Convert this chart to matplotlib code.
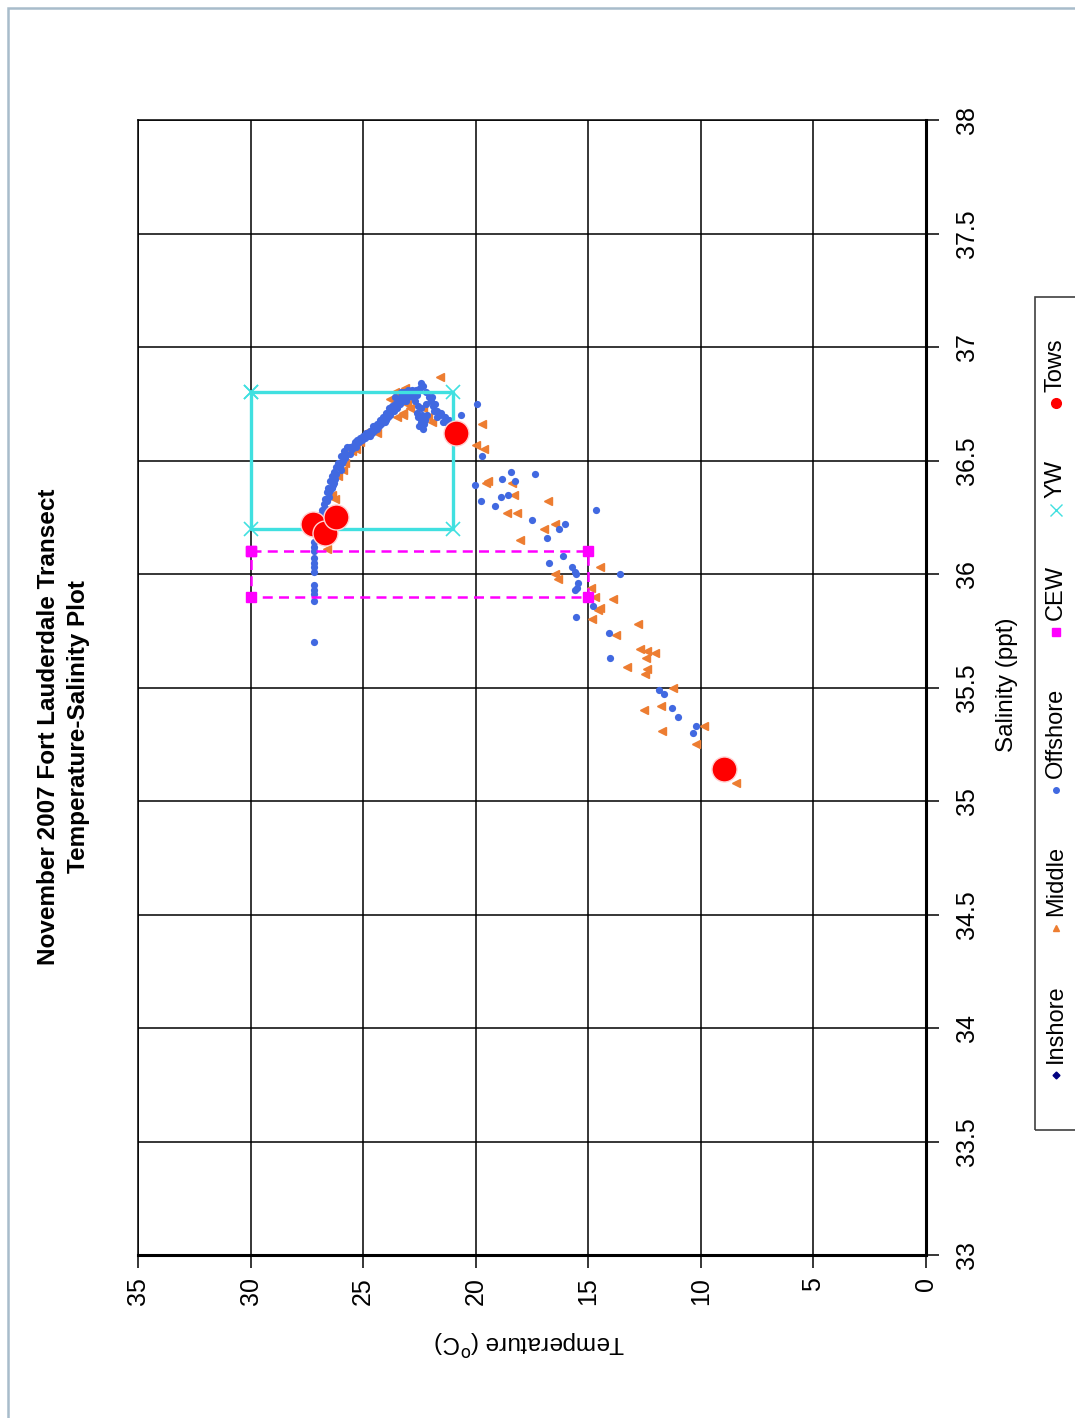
"""T-S plot, Fort Lauderdale transect Nov 2007 (drawn page-rotated, as in the scan)."""
import matplotlib
matplotlib.use("Agg")
import matplotlib.pyplot as plt
from matplotlib.lines import Line2D
from matplotlib.patches import Rectangle

plt.rcParams['font.family'] = ['Liberation Sans', 'DejaVu Sans']

W, H = 1075, 1418

# Offshore (blue) - temperature (C), salinity (ppt)
offshore_t = [27.2, 27.2, 27.2, 27.2, 27.2, 27.2, 27.2, 27.2, 27.2, 27.2, 27.2, 27.2,
              26.83, 26.74, 26.69, 26.61, 26.56, 26.47, 26.38, 26.29, 26.21, 26.12,
              25.98, 25.85, 25.72, 25.58, 25.41, 25.27, 25.14, 25.01, 24.87, 24.69,
              24.56, 24.38, 24.25, 24.12, 23.98, 23.85, 23.72, 23.58, 23.45, 23.32,
              23.19, 23.01, 22.83, 22.65, 22.47, 22.34, 22.21, 22.07, 21.94,
              26.5, 26.3, 26.0, 26.4, 25.9, 25.6, 25.3, 24.9, 24.6, 24.3, 24.0,
              23.7, 23.4, 23.1, 23.6, 23.3, 22.9, 22.6,
              22.61, 22.55, 22.45, 22.40, 22.30, 22.25, 22.15, 22.50, 22.35,
              21.90, 21.72, 21.54, 21.36, 21.19, 21.01, 21.60, 21.80, 21.30,
              22.43, 20.65, 19.94,
              26.9, 26.7, 26.6, 26.5, 26.45, 26.35, 26.25, 26.2, 26.05, 25.95,
              25.8, 25.75, 25.5, 25.35, 25.2, 25.05, 24.8, 24.7, 24.5, 24.4,
              24.2, 24.05, 23.9, 23.8, 23.65, 23.5, 23.35, 23.25, 23.1, 23.0,
              22.8, 22.7, 22.55, 22.45, 22.2, 22.0, 21.85, 21.7, 21.45,
              19.72, 18.43, 18.83, 18.25, 17.37, 20.03, 18.88, 18.57, 19.77, 19.14,
              17.50, 16.83, 16.30, 16.03, 14.66, 16.12, 16.74, 15.72, 15.59, 15.55,
              15.46, 15.59, 15.50, 13.59, 14.79, 15.55, 14.08, 14.04, 11.86, 11.64,
              11.28, 11.01, 10.22, 10.35]
offshore_s = [36.14, 36.12, 36.10, 36.07, 36.05, 36.03, 36.01, 35.95, 35.93, 35.91, 35.88, 35.70,
              36.28, 36.31, 36.33, 36.36, 36.38, 36.41, 36.43, 36.45, 36.47, 36.49,
              36.52, 36.54, 36.56, 36.56, 36.57, 36.59, 36.60, 36.61, 36.62, 36.63,
              36.65, 36.66, 36.68, 36.69, 36.71, 36.73, 36.74, 36.75, 36.77, 36.78,
              36.80, 36.81, 36.81, 36.81, 36.82, 36.83, 36.80, 36.78, 36.78,
              36.36, 36.40, 36.46, 36.38, 36.50, 36.53, 36.56, 36.60, 36.62, 36.65, 36.68,
              36.72, 36.75, 36.78, 36.78, 36.80, 36.79, 36.79,
              36.71, 36.69, 36.67, 36.70, 36.66, 36.68, 36.70, 36.65, 36.64,
              36.74, 36.72, 36.71, 36.69, 36.68, 36.66, 36.70, 36.75, 36.67,
              36.84, 36.70, 36.75,
              36.26, 36.29, 36.32, 36.34, 36.37, 36.39, 36.42, 36.44, 36.47, 36.49,
              36.51, 36.53, 36.55, 36.58, 36.58, 36.59, 36.61, 36.61, 36.63, 36.64,
              36.66, 36.67, 36.69, 36.70, 36.72, 36.73, 36.75, 36.76, 36.76, 36.78,
              36.78, 36.76, 36.74, 36.73, 36.75, 36.76, 36.72, 36.69, 36.67,
              36.52, 36.45, 36.42, 36.41, 36.44, 36.39, 36.34, 36.35, 36.32, 36.30,
              36.24, 36.16, 36.20, 36.22, 36.28, 36.08, 36.05, 36.03, 36.01, 36.00,
              35.96, 35.93, 35.94, 36.00, 35.86, 35.81, 35.74, 35.63, 35.49, 35.47,
              35.41, 35.37, 35.33, 35.30]

# Middle (orange triangles)
middle_t = [21.59, 19.72, 19.99, 19.63, 19.45, 19.54, 18.39, 18.30, 16.79, 18.61,
            18.17, 16.97, 16.48, 18.03, 14.48, 16.48, 16.34, 14.88, 14.70, 13.90,
            14.48, 14.57, 14.83, 12.79, 13.77, 12.70, 12.39, 12.04, 12.44, 13.28,
            12.39, 12.48, 11.24, 12.52, 11.77, 11.73, 9.86, 10.22, 8.44,
            23.14, 23.81, 23.05, 23.23, 22.34, 21.94, 23.94, 24.69, 25.14, 25.49,
            25.81, 26.12, 26.25, 24.78, 23.23, 26.61,
            25.3, 24.4, 23.5, 22.9, 22.1, 23.6, 26.4, 25.9]
middle_s = [36.87, 36.66, 36.57, 36.55, 36.41, 36.40, 36.40, 36.35, 36.32, 36.27,
            36.27, 36.20, 36.22, 36.15, 36.03, 36.00, 35.98, 35.94, 35.90, 35.89,
            35.85, 35.84, 35.80, 35.78, 35.73, 35.67, 35.66, 35.65, 35.63, 35.59,
            35.58, 35.56, 35.50, 35.40, 35.42, 35.31, 35.33, 35.25, 35.08,
            36.82, 36.77, 36.75, 36.71, 36.73, 36.67, 36.71, 36.63, 36.58, 36.54,
            36.49, 36.43, 36.33, 36.63, 36.70, 36.11,
            36.55, 36.62, 36.69, 36.73, 36.69, 36.80, 36.35, 36.46]

# Inshore: no points visible on the chart
inshore_t = []
inshore_s = []

# Water mass boxes
cew_t = [30, 15, 15, 30, 30]
cew_s = [36.1, 36.1, 35.9, 35.9, 36.1]
yw_t = [30, 21, 21, 30, 30]
yw_s = [36.8, 36.8, 36.2, 36.2, 36.8]

# Plankton tows
tows_t = [27.23, 26.69, 26.20, 20.87, 8.97]
tows_s = [36.22, 36.18, 36.25, 36.62, 35.14]

temp_ticks = [0, 5, 10, 15, 20, 25, 30, 35]
sal_ticks = [33, 33.5, 34, 34.5, 35, 35.5, 36, 36.5, 37, 37.5, 38]
sal_labels = ['33', '33.5', '34', '34.5', '35', '35.5', '36', '36.5', '37', '37.5', '38']

BLUE = '#4169E1'
ORANGE = '#ED7D31'
MAGENTA = '#FF00FF'
CYAN = '#40E0E0'
RED = '#FF0000'
NAVY = '#000080'


def fx(px):
    return px / W


def fy(py):
    return 1 - py / H


fig = plt.figure(figsize=(W / 100, H / 100), dpi=100)
fig.patch.set_facecolor('white')

# page border
fig.add_artist(Rectangle((fx(8), fy(1430)), fx(1090) - fx(8), fy(8) - fy(1430),
                         transform=fig.transFigure, fill=False,
                         edgecolor='#A8BCCB', linewidth=1.8))

ax = fig.add_axes([fx(138), fy(1255), fx(926) - fx(138), fy(120) - fy(1255)])

ax.plot(inshore_t, inshore_s, 'D', color=NAVY, markersize=4, linestyle='none')
ax.plot(middle_t, middle_s, '<', color=ORANGE, markersize=5.5, linestyle='none')
ax.plot(offshore_t, offshore_s, 'o', color=BLUE, markersize=5.2, linestyle='none',
        markeredgewidth=0)
ax.plot(cew_t, cew_s, '--s', color=MAGENTA, markersize=6.5, linewidth=1.8,
        dashes=(4, 2.5))
ax.plot(yw_t, yw_s, '-x', color=CYAN, markersize=10, linewidth=2.4,
        markeredgewidth=1.2)
ax.plot(tows_t, tows_s, 'o', color=RED, markersize=18, markeredgecolor='#FFD0D0',
        markeredgewidth=1.0, linestyle='none')

ax.set_xlim(35, 0)
ax.set_ylim(33, 38)
ax.set_xticks(temp_ticks)
ax.set_yticks(sal_ticks)
ax.set_yticklabels(sal_labels)
ax.yaxis.tick_right()
ax.grid(True, color='black', linewidth=1.1)
ax.set_axisbelow(True)

for side in ['left', 'top']:
    ax.spines[side].set_linewidth(1.1)
for side in ['bottom', 'right']:
    ax.spines[side].set_linewidth(2.2)

ax.tick_params(axis='both', direction='out', length=9, width=1.1, colors='black',
               labelsize=18)
ax.tick_params(axis='x', pad=7)
ax.tick_params(axis='y', pad=12)
for lab in ax.get_xticklabels():
    lab.set_rotation(90)
    lab.set_va('top')
    lab.set_ha('center')
for lab in ax.get_yticklabels():
    lab.set_rotation(90)
    lab.set_va('center')
    lab.set_ha('left')

# axis titles
fig.text(fx(1007), fy(685), 'Salinity (ppt)', rotation=90, ha='center', va='center',
         fontsize=17.5)
fig.text(fx(530), fy(1343), r'Temperature ($^{\mathrm{o}}$C)', rotation=180,
         ha='center', va='center', fontsize=17.5)

# title
fig.text(fx(49), fy(727), 'November 2007 Fort Lauderdale Transect', rotation=90,
         ha='center', va='center', fontsize=17.5, fontweight='bold')
fig.text(fx(79), fy(727), 'Temperature-Salinity Plot', rotation=90,
         ha='center', va='center', fontsize=17.5, fontweight='bold')

# legend (rotated, drawn by hand)
fig.add_artist(Rectangle((fx(1035), fy(1130)), fx(1090) - fx(1035), fy(297) - fy(1130),
                         transform=fig.transFigure, fill=False,
                         edgecolor='#404040', linewidth=1.2))
legend_items = [
    ('Inshore', 'D', NAVY, 3.5, 1075, 1063),
    ('Middle', '^', ORANGE, 4.5, 928, 916),
    ('Offshore', 'o', BLUE, 4.0, 790, 778),
    ('CEW', 's', MAGENTA, 6.0, 632, 620),
    ('YW', 'x', CYAN, 8.0, 510, 498),
    ('Tows', 'o', RED, 7.0, 403, 392),
]
for name, mk, col, ms, my, ty in legend_items:
    fig.add_artist(Line2D([fx(1056)], [fy(my)], transform=fig.transFigure,
                          marker=mk, color=col, markersize=ms, linestyle='none'))
    fig.text(fx(1056), fy(ty), name, rotation=90, ha='center', va='bottom',
             fontsize=17)

fig.savefig('out.png', dpi=100)
